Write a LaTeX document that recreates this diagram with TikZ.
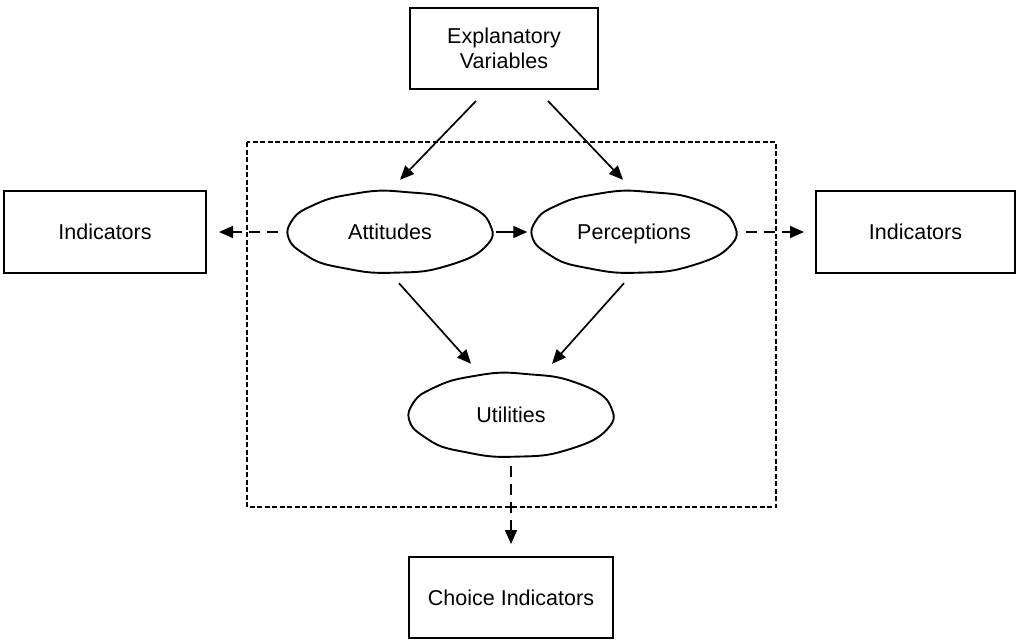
\documentclass[tikz,border=0pt]{standalone}
\usepackage{fontspec}
\setmainfont{Liberation Sans}
\usetikzlibrary{arrows.meta,shapes.geometric,calc}

% hand-drawn looking ellipse outline round a named node: #1 node, #2 x-radius, #3 y-radius
\newcommand\wobblyoutline[3]{%
  \begin{scope}[shift={(#1.center)}]
    \draw[line width=1.9pt] plot[smooth cycle, domain=0:355, samples=72]
      ({#2*cos(\x)*(1+0.004*sin(9*\x)+0.003*sin(14*\x+30))},
       {#3*sin(\x)*(1+0.01*sin(11*\x+60)+0.006*sin(6*\x))});
  \end{scope}}

\begin{document}
\begin{tikzpicture}[x=1pt,y=-1pt,
  every node/.style={font=\fontsize{21.5}{25}\selectfont, align=center, inner sep=0pt},
  box/.style={draw, line width=2pt, rectangle},
  latent/.style={ellipse, minimum width=205pt, minimum height=82pt,
    text height=20pt, text depth=4.5pt},
  link/.style={line width=1.7pt, -{Triangle[length=14pt,width=12pt]}},
  dlink/.style={link, dash pattern=on 11pt off 7pt},
  frame/.style={line width=1.6pt, dash pattern=on 5pt off 2.5pt}]
\useasboundingbox (0,0) rectangle (1019,640);

% structural model frame
\draw[frame] (247,142) rectangle (776,507);

% observed variables
\node[box, minimum width=188pt, minimum height=81pt] (expl) at (504,48.5) {Explanatory\\Variables};
\node[box, minimum width=202pt, minimum height=82pt] (indL) at (105,232) {Indicators};
\node[box, minimum width=199pt, minimum height=82pt] (indR) at (915.5,232) {Indicators};
\node[box, minimum width=204pt, minimum height=81pt] (choice) at (511,597.5) {Choice Indicators};

% latent variables
\node[latent] (att) at (390,232) {Attitudes};
\node[latent] (perc) at (634,232) {Perceptions};
\node[latent, minimum height=84pt] (util) at (511,415) {Utilities};
\wobblyoutline{att}{102.5}{41}
\wobblyoutline{perc}{102.5}{41}
\wobblyoutline{util}{102.5}{42}

% causal links
\draw[link] ($(expl.south)+(-28,11)$) -- ($(att.north)+(10,-11)$);
\draw[link] ($(expl.south)+(44,11)$) -- ($(perc.north)+(-11,-11)$);
\draw[link, shorten <=3pt, shorten >=4pt] (att.east) -- (perc.west);
\draw[link] ($(att.south)+(9,10)$) -- ($(util.north)+(-40,-9)$);
\draw[link] ($(perc.south)+(-10,10)$) -- ($(util.north)+(41,-9)$);

% measurement links
\draw[dlink, shorten <=9pt, shorten >=12pt] (att.west) -- (indL.east);
\draw[dlink, shorten <=9pt, shorten >=11pt] (perc.east) -- (indR.west);
\draw[dlink, shorten <=9pt, shorten >=12pt] (util.south) -- (choice.north);
\end{tikzpicture}
\end{document}
